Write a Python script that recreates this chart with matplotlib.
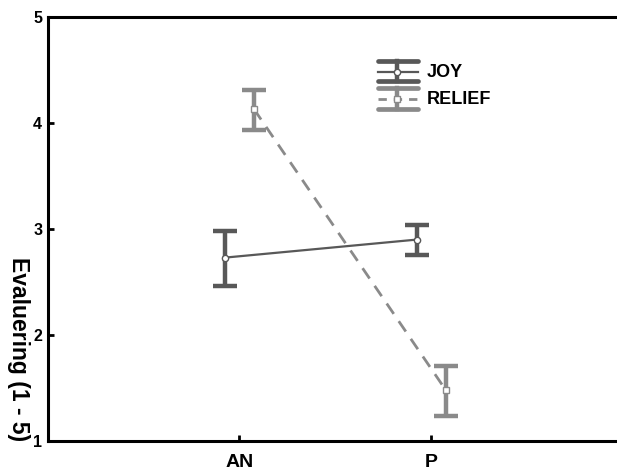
import matplotlib
matplotlib.use("Agg")
import matplotlib.pyplot as plt
from matplotlib.lines import Line2D
import numpy as np

plt.rcParams['font.family'] = ['Liberation Sans', 'DejaVu Sans']
plt.rcParams['font.weight'] = 'bold'

categories = ["AN", "P"]
series_names = ["JOY", "RELIEF"]
joy_mean = [2.73, 2.90]
joy_low = [2.46, 2.75]
joy_high = [2.98, 3.04]
relief_mean = [4.13, 1.48]
relief_low = [3.93, 1.24]
relief_high = [4.31, 1.71]
yticks = [1, 2, 3, 4, 5]
ylabel = "Evaluering (1 - 5)"

W, H = 617, 473
fig = plt.figure(figsize=(W / 100, H / 100), dpi=100)
L, R, T, B = 47.7, 623.0, 17.0, 441.0
ax = fig.add_axes([L / W, 1 - B / H, (R - L) / W, (B - T) / H])

x = np.arange(len(categories))
joy_col = "#585858"
rel_col = "#8a8a8a"
off = 0.076

jm = np.array(joy_mean)
ax.plot(x - off, jm, color=joy_col, lw=1.6, zorder=2)
ax.errorbar(x - off, jm, yerr=[jm - np.array(joy_low), np.array(joy_high) - jm],
            fmt='none', ecolor=joy_col, elinewidth=3.2, capsize=8.5, capthick=3.2, zorder=3)
ax.plot(x - off, jm, ls='none', marker='o', ms=4.5, mfc='white', mec=joy_col, mew=1.0, zorder=4)

rm = np.array(relief_mean)
ax.plot(x + off, rm, color=rel_col, lw=2.0, ls=(0, (4.5, 3.2)), zorder=2)
ax.errorbar(x + off, rm, yerr=[rm - np.array(relief_low), np.array(relief_high) - rm],
            fmt='none', ecolor=rel_col, elinewidth=3.2, capsize=8.5, capthick=3.2, zorder=3)
ax.plot(x + off, rm, ls='none', marker='s', ms=4.5, mfc='white', mec=rel_col, mew=1.0, zorder=4)

ax.set_xlim(-1, 2)
ax.set_ylim(1, 5)
ax.set_xticks(x)
ax.set_xticklabels(categories, fontsize=14, fontweight='bold')
ax.set_yticks(yticks)
ax.set_yticklabels([str(v) for v in yticks], fontsize=11.5, fontweight='bold')
ax.tick_params(axis='both', direction='in', length=4, width=2, colors='black')
ax.tick_params(axis='x', pad=9)
ax.tick_params(axis='y', pad=4)
for s in ['left', 'top', 'bottom']:
    ax.spines[s].set_linewidth(2.2)
ax.spines['right'].set_visible(False)

ax.text(-0.05, 0.0, ylabel, rotation=-90, transform=ax.transAxes,
        ha='center', va='bottom', fontsize=16.5, fontweight='bold')

# legend (drawn in axes fraction coordinates)
def fx(px):
    return (px - L) / (R - L)
def fy(py):
    return (B - py) / (B - T)

def legend_entry(ytop, ymid, ybot, col, ls, marker, label):
    x0, x1, xc = fx(378), fx(418), fx(397)
    kw = dict(transform=ax.transAxes, clip_on=False)
    ax.add_line(Line2D([x0, x1], [fy(ytop)] * 2, color=col, lw=3.4, solid_capstyle='round', **kw))
    ax.add_line(Line2D([x0, x1], [fy(ybot)] * 2, color=col, lw=3.4, solid_capstyle='round', **kw))
    ax.add_line(Line2D([xc, xc], [fy(ytop), fy(ybot)], color=col, lw=3.2, **kw))
    if ls == '-':
        ax.add_line(Line2D([x0, x1], [fy(ymid)] * 2, color=col, lw=1.6, **kw))
    else:
        ax.add_line(Line2D([x0, x1], [fy(ymid)] * 2, color=col, lw=2.0, ls=(0, (3, 2.5)), **kw))
    ax.add_line(Line2D([xc], [fy(ymid)], ls='none', marker=marker, ms=4.5, mfc='white',
                       mec=col, mew=1.0, **kw))
    ax.text(fx(427), fy(ymid), label, transform=ax.transAxes, ha='left', va='center',
            fontsize=13, fontweight='bold')

legend_entry(61.5, 72, 81.5, joy_col, '-', 'o', series_names[0])
legend_entry(88.5, 99, 109.5, rel_col, '--', 's', series_names[1])

fig.savefig("out.png", dpi=100)
